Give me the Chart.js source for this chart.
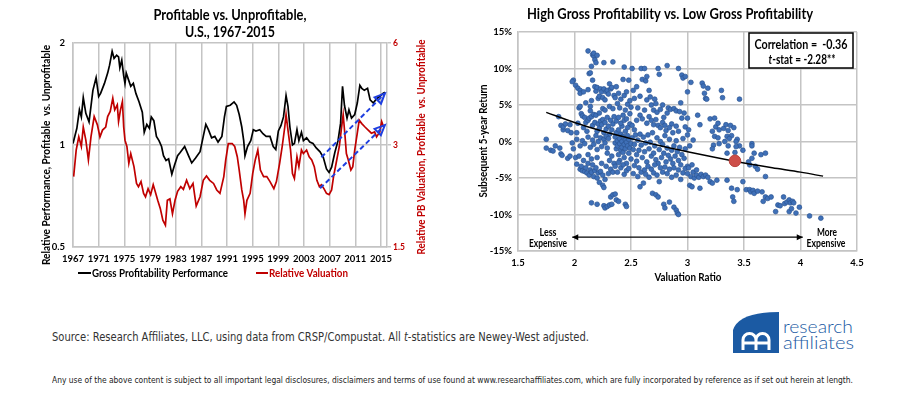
<!DOCTYPE html>
<html><head><meta charset="utf-8">
<script src="https://cdn.jsdelivr.net/npm/chart.js@4.4.1/dist/chart.umd.min.js"></script>
<style>
html,body{margin:0;padding:0;background:#fff;width:900px;height:399px;overflow:hidden;position:relative;}
#c1{position:absolute;left:0;top:0;}
#c2{position:absolute;left:450px;top:0;}
.foot{position:absolute;white-space:nowrap;transform-origin:0 50%;color:#333;}
#src{left:52px;top:329px;font:13px 'Liberation Sans Narrow','DejaVu Sans Condensed',sans-serif;}
#disc{left:52px;top:375px;font:9px 'Liberation Sans Narrow','DejaVu Sans Condensed',sans-serif;color:#222;}
#logo{position:absolute;left:728px;top:308px;}
</style></head><body>
<canvas id="c1" width="450" height="290"></canvas>
<canvas id="c2" width="450" height="290"></canvas>
<div class="foot" id="src">Source: Research Affiliates, LLC, using data from CRSP/Compustat. All <i>t</i>-statistics are Newey-West adjusted.</div>
<div class="foot" id="disc">Any use of the above content is subject to all important legal disclosures, disclaimers and terms of use found at www.researchaffiliates.com, which are fully incorporated by reference as if set out herein at length.</div>
<svg id="logo" width="135" height="50" xmlns="http://www.w3.org/2000/svg">
  <path d="M5 45 L5 22 Q11 4 51 4 L51 45 Z" fill="#1b5aa3"/>
  <path d="M15 42 L15 32 A6.5 6.5 0 0 1 28 32 L28 42 M28 32 A6.5 6.5 0 0 1 41 32 L41 42 M15 35 L41 35" stroke="#fff" stroke-width="3" fill="none"/>
  <text x="55" y="25" font-family="Lato, 'Open Sans', sans-serif" font-weight="300" font-size="17" fill="#1b5aa3" textLength="70" lengthAdjust="spacingAndGlyphs">research</text>
  <text x="55" y="41" font-family="Lato, 'Open Sans', sans-serif" font-weight="300" font-size="17" fill="#1b5aa3" textLength="71" lengthAdjust="spacingAndGlyphs">affiliates</text>
</svg>
<script>
// ---------------- DATA ----------------
const yearTicks = [1967,1971,1975,1979,1983,1987,1991,1995,1999,2003,2007,2011,2015];
const perfTicks = [0.5, 1, 2];
const valTicks = [1.5, 3, 6];

const perfYears = [1967.0,1967.6,1968.0,1968.3,1968.6,1969.0,1969.5,1969.8,1970.1,1970.6,1971.0,1971.3,1971.9,1972.4,1972.7,1973.1,1973.4,1973.8,1974.1,1974.3,1974.6,1974.9,1975.1,1975.3,1976.0,1976.4,1976.8,1977.3,1977.8,1978.1,1978.5,1978.9,1979.2,1979.6,1980.0,1980.4,1980.8,1981.1,1981.5,1981.9,1982.4,1982.8,1983.3,1983.7,1984.4,1985.0,1985.5,1986.1,1986.8,1987.3,1987.7,1988.1,1988.6,1989.1,1989.6,1990.2,1990.6,1990.9,1991.5,1992.1,1992.5,1992.9,1993.3,1993.6,1993.8,1994.2,1994.7,1995.1,1995.5,1996.1,1996.6,1997.1,1997.7,1998.2,1998.6,1999.0,1999.4,1999.8,2000.0,2000.2,2000.5,2000.8,2001.2,2001.5,2001.9,2002.2,2002.6,2002.9,2003.4,2003.9,2004.4,2004.9,2005.5,2006.0,2006.5,2006.9,2007.3,2007.8,2008.3,2008.7,2009.0,2009.3,2009.7,2010.0,2010.4,2010.9,2011.3,2011.7,2012.0,2012.4,2012.9,2013.3,2013.8,2014.3,2014.8,2015.3,2015.6];
const perfValues = [1.01,1.12,1.27,1.21,1.38,1.24,1.17,1.30,1.45,1.58,1.39,1.42,1.52,1.63,1.72,1.89,1.80,1.84,1.82,1.69,1.78,1.60,1.52,1.63,1.49,1.52,1.42,1.34,1.25,1.09,1.15,1.12,1.21,1.18,1.06,1.03,0.99,0.93,0.90,0.91,0.82,0.87,0.93,0.95,0.99,0.93,0.885,0.915,0.955,1.06,1.15,1.11,1.05,1.06,1.02,1.06,1.21,1.30,1.31,1.34,1.31,1.23,1.13,1.03,0.93,0.99,1.03,1.11,1.10,1.11,1.08,1.06,1.06,0.99,0.97,1.10,1.14,1.21,1.30,1.40,1.30,1.13,1.00,1.01,1.11,1.03,1.09,1.03,1.05,1.02,1.01,0.98,0.955,0.92,0.85,0.83,0.86,0.95,1.03,1.16,1.49,1.31,1.20,1.27,1.20,1.23,1.33,1.50,1.47,1.45,1.47,1.36,1.33,1.37,1.39,1.42,1.43];

const valYears = [1967.1,1967.5,1967.9,1968.3,1968.6,1969.0,1969.4,1969.8,1970.3,1970.8,1971.2,1971.6,1972.1,1972.4,1972.8,1973.2,1973.5,1973.9,1974.1,1974.4,1974.7,1974.9,1975.1,1975.4,1975.7,1976.0,1976.5,1976.9,1977.2,1977.6,1978.0,1978.3,1978.7,1979.1,1979.5,1979.8,1980.2,1980.6,1981.0,1981.4,1981.7,1982.1,1982.5,1982.9,1983.3,1983.8,1984.2,1984.7,1985.2,1985.7,1986.2,1986.8,1987.3,1987.8,1988.3,1988.9,1989.4,1989.9,1990.5,1990.8,1991.2,1991.8,1992.2,1992.6,1992.9,1993.3,1993.6,1993.8,1994.1,1994.6,1995.0,1995.4,1995.8,1996.2,1996.7,1997.2,1997.7,1998.3,1998.7,1999.2,1999.6,2000.0,2000.2,2000.5,2000.9,2001.2,2001.5,2001.9,2002.2,2002.6,2002.9,2003.4,2003.8,2004.2,2004.6,2005.0,2005.4,2005.7,2006.1,2006.5,2006.9,2007.3,2007.6,2008.0,2008.5,2008.8,2009.1,2009.4,2009.6,2009.9,2010.3,2010.6,2010.9,2011.3,2011.6,2012.0,2012.5,2013.0,2013.5,2014.0,2014.3,2014.8,2015.1,2015.4];
const valValues = [2.42,2.90,3.17,2.97,3.39,3.10,2.71,3.17,3.64,3.44,3.17,3.32,3.39,3.64,3.77,4.12,3.81,3.94,3.52,3.81,4.03,3.39,3.10,2.97,2.65,2.83,2.59,2.31,2.26,2.34,2.16,2.11,2.23,2.14,2.29,2.19,2.06,1.95,1.80,1.74,2.06,2.08,1.88,2.06,2.19,2.26,2.22,2.36,2.23,2.31,1.98,2.11,2.36,2.43,2.36,2.31,2.21,2.16,2.42,2.71,3.03,3.03,2.97,2.77,2.53,2.21,2.06,1.88,2.06,2.16,2.47,2.71,2.90,2.53,2.42,2.42,2.34,2.23,2.34,2.65,2.97,3.39,3.69,3.32,2.90,2.47,2.39,2.77,2.59,2.90,2.83,2.90,2.77,2.71,2.59,2.36,2.26,2.29,2.23,2.16,2.14,2.21,2.42,2.65,2.97,3.32,3.69,3.17,2.83,2.71,2.53,2.59,2.90,3.25,3.55,3.47,3.39,3.32,3.25,3.28,3.17,3.28,3.52,3.39];

// trend arrows on left chart (left-axis values)
const arrowUpper = [[2005.7, 0.92], [2015.6, 1.42]];
const arrowLower = [[2005.5, 0.745], [2015.6, 1.145]];

// right chart
const valuationTicks = [1.5, 2, 2.5, 3, 3.5, 4, 4.5];
const returnTicks = [-15, -10, -5, 0, 5, 10, 15];
const scatterPoints = [
[1.75,0.3],[1.75,-0.9],[1.79,-1.2],[1.81,-1.3],[1.83,-0.6],[1.87,-0.9],[1.88,-1.7],[1.89,-1.9],[1.94,-2.3],[1.86,3.4],[1.88,2.2],[1.9,1.6],[1.9,2.0],[1.92,2.4],[1.94,1.5],[1.96,2.3],[1.97,1.2],[1.98,-0.2],[1.99,-1.0],[1.99,8.4],[1.98,8.2],[1.96,-2.0],
[2.01,7.7],[2.03,7.3],[2.05,7.0],[2.05,6.6],[2.08,6.8],[2.1,5.3],[2.12,7.1],[2.12,12.4],[2.14,4.8],[2.15,5.6],[2.16,11.9],[2.17,11.7],[2.17,12.1],[2.18,11.2],[2.19,10.8],[2.2,11.8],[2.15,10.3],[2.13,9.3],[2.14,9.4],[2.16,8.4],[2.18,7.5],[2.19,6.9],[2.2,7.4],[2.21,5.9],[2.22,6.2],[2.23,7.2],[2.24,6.8],[2.25,6.0],[2.26,10.8],[2.26,7.2],[2.27,5.7],[2.28,6.8],[2.29,7.0],[2.3,6.5],[2.31,7.9],[2.32,7.2],[2.33,7.4],[2.34,10.9],[2.35,6.3],
[2.04,4.6],[2.05,4.8],[2.06,3.8],[2.07,3.5],[2.09,3.3],[2.1,2.6],[2.11,1.4],[2.08,1.9],[2.02,1.2],[2.03,2.5],[2.12,2.9],[2.13,3.2],[2.14,4.2],[2.15,3.4],[2.16,2.2],[2.17,3.7],[2.18,2.6],[2.19,3.6],[2.2,1.4],[2.21,2.4],[2.22,3.9],[2.22,1.8],[2.23,2.8],[2.24,2.3],[2.25,3.0],[2.25,4.5],[2.26,1.2],[2.27,4.3],[2.27,2.6],[2.28,1.7],[2.29,3.3],[2.3,2.1],[2.31,4.8],[2.31,1.0],[2.32,2.9],[2.33,1.6],[2.34,4.5],[2.34,2.4],[2.35,3.4],
[2.02,0.3],[2.05,-0.6],[2.07,0.1],[2.09,-0.3],[2.12,0.6],[2.14,-0.8],[2.16,0.2],[2.17,-0.4],[2.19,0.8],[2.2,-1.1],[2.21,0.0],[2.23,0.5],[2.24,-0.7],[2.26,0.3],[2.27,-0.2],[2.28,0.7],[2.29,-0.9],[2.3,0.4],
[2.01,-2.2],[2.02,-3.1],[2.04,-2.0],[2.05,-3.8],[2.06,-3.4],[2.07,-4.0],[2.08,-2.6],[2.09,-4.1],[2.1,-3.6],[2.11,-4.3],[2.12,-1.8],[2.12,-3.0],[2.13,-4.6],[2.14,-3.9],[2.15,-4.2],[2.15,-2.4],[2.16,-3.2],[2.17,-4.8],[2.18,-4.0],[2.19,-3.6],[2.2,-5.0],[2.2,-2.2],[2.21,-4.3],[2.22,-5.6],[2.23,-4.1],[2.24,-3.0],[2.25,-6.0],[2.25,-4.6],[2.26,-6.3],[2.27,-5.2],[2.28,-3.4],[2.29,-1.6],[2.3,-4.4],[2.31,-2.6],[2.32,-3.8],[2.33,-2.0],[2.34,-4.2],[2.35,-3.0],
[2.15,-8.4],[2.2,-8.6],[2.26,-8.8],[2.27,-9.1],[2.29,-8.9],[2.31,-8.7],[2.33,-8.6],[2.32,-7.6],[2.34,-7.3],[2.36,-7.2],[2.37,-8.0],[2.39,-8.2],[2.45,-8.6],[2.46,-8.9],
[2.36,0.6],[2.36,-0.2],[2.37,1.2],[2.37,-1.0],[2.38,0.1],[2.38,-0.6],[2.39,1.6],[2.39,-1.8],[2.4,0.4],[2.4,-0.3],[2.4,-2.6],[2.41,1.0],[2.41,-1.2],[2.42,0.0],[2.42,-0.8],[2.42,2.1],[2.43,-1.5],[2.43,0.7],[2.44,-0.4],[2.44,-2.2],[2.45,0.2],[2.45,1.4],[2.45,-1.0],[2.46,-0.1],[2.46,-3.0],[2.47,0.8],[2.47,-0.6],[2.48,-1.6],[2.48,0.3],[2.49,-0.9],[2.49,2.4],[2.5,-0.3],[2.5,-2.4],[2.51,0.5],[2.52,-1.1],[2.53,-0.4],[2.54,0.9],[2.55,-1.8],[2.36,-3.4],[2.38,-4.2],[2.39,-2.9],[2.41,-3.6],[2.43,-3.2],[2.44,-4.5],[2.46,-4.0],[2.48,-3.7],[2.52,-4.4],[2.53,-3.3],[2.55,-2.7],[2.37,2.8],[2.39,3.3],[2.41,2.5],[2.43,3.6],[2.44,2.9],[2.46,3.1],[2.47,1.9],[2.49,3.8],[2.51,2.2],[2.53,1.6],[2.55,2.9],
[2.36,6.0],[2.37,7.5],[2.38,5.2],[2.39,6.6],[2.4,4.6],[2.41,5.8],[2.43,8.5],[2.44,10.2],[2.44,6.3],[2.45,4.3],[2.46,6.8],[2.47,5.1],[2.48,8.4],[2.49,5.6],[2.5,4.7],[2.51,10.0],[2.52,7.0],[2.53,5.9],[2.55,7.5],[2.56,4.6],[2.58,6.2],[2.59,10.0],[2.6,8.5],
[2.62,10.0],[2.63,8.3],[2.64,8.9],[2.64,5.7],[2.66,7.0],[2.67,6.1],[2.68,5.0],[2.7,4.3],[2.71,5.8],[2.72,5.2],[2.73,4.0],[2.74,10.0],[2.75,9.2],[2.76,4.4],[2.78,5.0],[2.79,3.3],[2.82,10.4],[2.82,3.9],[2.83,4.6],[2.85,4.4],[2.86,2.4],[2.88,4.5],[2.9,4.2],[2.92,10.0],[2.93,4.1],[2.94,5.3],[2.95,9.1],[2.96,8.7],[2.97,3.9],[2.98,8.9],[3.0,6.8],[3.03,8.1],[2.58,3.6],[2.6,3.1],[2.62,4.3],[2.64,2.5],[2.66,3.4],[2.68,2.9],[2.7,2.3],[2.72,3.0],[2.74,2.2],[2.76,1.9],[2.78,2.6],[2.8,2.2],[2.81,1.5],[2.84,1.9],[2.87,1.2],[2.9,2.1],[2.92,1.4],[2.95,3.2],[2.98,2.0],
[2.56,0.2],[2.57,-1.2],[2.58,1.0],[2.59,-0.5],[2.6,-2.2],[2.61,0.6],[2.62,-1.4],[2.63,-0.2],[2.64,-2.8],[2.65,0.9],[2.66,-1.0],[2.67,-0.1],[2.68,-2.0],[2.69,1.2],[2.7,-1.6],[2.71,-0.6],[2.72,-2.5],[2.73,0.5],[2.74,-3.0],[2.75,-1.1],[2.76,0.0],[2.77,-2.2],[2.78,-0.4],[2.79,-1.6],[2.8,0.8],[2.81,-2.8],[2.82,-0.9],[2.83,-1.9],[2.84,0.3],[2.85,-2.4],[2.86,-1.2],[2.87,-3.0],[2.88,-0.6],[2.89,-2.0],[2.9,0.1],[2.91,-1.4],[2.92,-2.6],[2.93,-0.8],[2.94,-3.2],[2.95,-1.8],[2.96,0.4],[2.97,-2.3],[2.98,-1.0],[3.0,-3.4],
[2.56,-4.8],[2.57,-3.6],[2.58,-6.2],[2.59,-4.2],[2.61,-5.7],[2.62,-3.9],[2.63,-4.5],[2.65,-3.4],[2.66,-4.9],[2.68,-3.8],[2.7,-4.3],[2.71,-3.2],[2.73,-4.6],[2.75,-5.5],[2.76,-3.6],[2.78,-4.2],[2.8,-3.5],[2.82,-4.4],[2.84,-3.8],[2.86,-4.9],[2.88,-3.6],[2.9,-4.6],[2.92,-3.9],[2.94,-5.2],[2.96,-4.3],[2.98,-3.7],
[2.69,-7.1],[2.72,-7.3],[2.74,-7.6],[2.79,-8.6],[2.8,-9.1],[2.84,-8.3],[2.88,-9.0],[2.9,-9.4],[2.91,-9.8],[2.92,-10.0],
[3.0,-4.4],[3.01,-3.6],[3.02,-6.0],[3.03,-4.8],[3.04,-6.2],[3.05,-4.2],[3.06,-5.0],[3.08,-4.6],[3.1,-4.9],[3.11,-6.4],[3.12,-4.5],[3.14,-4.8],[3.16,-4.6],[3.18,-4.9],[3.2,-5.5],[3.22,-5.7],[3.04,-3.2],[3.08,-3.9],
[3.0,3.2],[3.01,1.6],[3.0,0.9],[3.02,-0.6],[3.05,0.2],[3.09,3.6],[3.11,2.3],[3.13,8.0],[3.14,7.6],[3.15,6.6],[3.16,5.9],[3.17,5.8],[3.18,7.3],[3.2,3.1],[3.22,1.4],[3.24,3.2],[3.25,2.0],[3.27,2.5],[3.28,1.6],[3.3,7.0],[3.31,6.0],[3.32,1.8],[3.34,2.3],[3.36,1.5],[3.38,2.2],[3.39,0.8],[3.41,1.9],[3.44,0.3],[3.46,5.8],[3.24,0.7],[3.27,0.5],[3.35,0.7],[3.37,0.4],[3.23,-0.5],[3.28,-0.3],[3.33,0.0],[3.43,0.0],[3.46,-0.6],[3.36,-0.6],[3.22,-1.0],
[3.35,-1.6],[3.42,-1.5],[3.43,-0.7],[3.49,-1.2],[3.57,-0.3],[3.57,-0.6],[3.59,-1.6],[3.57,-2.3],[3.55,-3.2],[3.54,-2.8],[3.6,-3.4],[3.62,-3.8],[3.65,-1.8],[3.69,-1.6],[3.69,-4.8],
[3.26,-5.3],[3.35,-5.3],[3.39,-6.4],[3.4,-7.6],[3.41,-8.2],[3.44,-6.6],[3.49,-5.5],[3.52,-6.6],[3.55,-6.6],[3.56,-6.9],[3.58,-6.7],[3.59,-7.1],[3.66,-6.9],[3.67,-8.2],[3.69,-7.6],[3.71,-7.8],[3.74,-7.6],[3.78,-9.6],[3.8,-8.7],[3.82,-8.8],[3.85,-7.6],[3.86,-8.5],[3.88,-8.3],[3.9,-8.0],[3.91,-8.4],[3.93,-8.2],[3.9,-9.6],[3.92,-9.2],[3.96,-9.8],[3.99,-9.0],[4.08,-10.2],[4.18,-10.5],[3.94,-8.4],[3.62,-6.8]
];
const currentPoint = [[3.42, -2.65]];
const trendPoints = [[1.75,4.0],[2.0,2.6],[2.25,1.4],[2.5,0.4],[2.75,-0.55],[3.0,-1.4],[3.25,-2.2],[3.5,-2.95],[3.75,-3.6],[4.0,-4.2],[4.2,-4.75]];
const expensiveArrow = [[1.98,-13.1],[4.02,-13.1]];
const statLines = ['Correlation =  -0.36', '-stat = -2.28**'];

// ---------------- HELPERS ----------------
const FAM = "Lato, 'Open Sans', sans-serif";
function drawText(ctx, parts, cx, cy, size, target, rot) {
  ctx.save();
  ctx.translate(cx, cy);
  if (rot) ctx.rotate(rot);
  let total = 0;
  parts.forEach(p => { ctx.font = (p.s || '') + ' bold ' + size + 'px ' + FAM; p.w = ctx.measureText(p.t).width; total += p.w; });
  const sx = target ? target / total : 1;
  ctx.scale(sx, 1);
  ctx.textBaseline = 'middle'; ctx.textAlign = 'left';
  let x = -total / 2;
  parts.forEach(p => { ctx.font = (p.s || '') + ' bold ' + size + 'px ' + FAM; ctx.fillStyle = p.c || '#000'; ctx.fillText(p.t, x, 0); x += p.w; });
  ctx.restore();
}
function drawTextLeft(ctx, t, x, cy, size, target, color) {
  ctx.save();
  ctx.font = 'bold ' + size + 'px ' + FAM;
  const w = ctx.measureText(t).width;
  ctx.translate(x, cy); ctx.scale(target / w, 1);
  ctx.textBaseline = 'middle'; ctx.textAlign = 'left'; ctx.fillStyle = color;
  ctx.fillText(t, 0, 0);
  ctx.restore();
}
function arrowHead(ctx, ax, ay, bx, by, len, half, color, fill) {
  const ang = Math.atan2(by - ay, bx - ax);
  ctx.save();
  ctx.translate(bx, by); ctx.rotate(ang);
  ctx.beginPath(); ctx.moveTo(0, 0); ctx.lineTo(-len, -half); ctx.lineTo(-len, half); ctx.closePath();
  ctx.setLineDash([]);
  if (fill) { ctx.fillStyle = color; ctx.fill(); }
  else { ctx.strokeStyle = color; ctx.lineWidth = 2; ctx.lineJoin = 'miter'; ctx.stroke(); }
  ctx.restore();
}
const GRID = '#c4c4c4';
const tickFont = {family: FAM, weight: 'bold', size: 9.5};

// ---------------- LEFT CHART ----------------
const leftDecor = {
  id: 'leftDecor',
  afterDatasetsDraw(chart) {
    const ctx = chart.ctx;
    [0, 1].forEach(i => {
      const pts = chart.getDatasetMeta(i).data;
      const a = pts[pts.length - 2], b = pts[pts.length - 1];
      arrowHead(ctx, a.x, a.y, b.x, b.y, 10, 4.5, '#1f3fe0', false);
    });
  },
  afterDraw(chart) {
    const ctx = chart.ctx;
    drawText(ctx, [{t: 'Profitable vs. Unprofitable,'}], 230, 15, 14.5, 153);
    drawText(ctx, [{t: 'U.S., 1967-2015'}], 230, 32, 14.5, 90);
    drawText(ctx, [{t: 'Relative Performance, Profitable  vs. Unprofitable'}], 46, 155, 11, 220, -Math.PI / 2);
    drawText(ctx, [{t: 'Relative PB Valuation, Profitable  vs. Unprofitable', c: '#c00000'}], 421, 147, 11, 215, -Math.PI / 2);
    // legend
    ctx.save();
    ctx.lineWidth = 2;
    ctx.strokeStyle = '#000'; ctx.beginPath(); ctx.moveTo(78, 273); ctx.lineTo(91, 273); ctx.stroke();
    ctx.strokeStyle = '#c00000'; ctx.beginPath(); ctx.moveTo(256, 273); ctx.lineTo(268, 273); ctx.stroke();
    ctx.restore();
    drawTextLeft(ctx, chart.data.datasets[2].label, 92, 273, 11.5, 136, '#000');
    drawTextLeft(ctx, chart.data.datasets[3].label, 269, 273, 11.5, 79, '#c00000');
  }
};

new Chart(document.getElementById('c1'), {
  type: 'line',
  data: {
    datasets: [
      {label: 'arrowUpper', data: arrowUpper.map(([x, y]) => ({x, y})), borderColor: '#1f3fe0', borderWidth: 2, borderDash: [5, 3], pointRadius: 0, yAxisID: 'y', order: 0},
      {label: 'arrowLower', data: arrowLower.map(([x, y]) => ({x, y})), borderColor: '#1f3fe0', borderWidth: 2, borderDash: [5, 3], pointRadius: 0, yAxisID: 'y', order: 0},
      {label: 'Gross Profitability Performance', data: perfYears.map((x, i) => ({x, y: perfValues[i]})), borderColor: '#000', borderWidth: 1.7, pointRadius: 0, yAxisID: 'y', order: 1},
      {label: 'Relative Valuation', data: valYears.map((x, i) => ({x, y: valValues[i]})), borderColor: '#c00000', borderWidth: 1.7, pointRadius: 0, yAxisID: 'y2', order: 2}
    ]
  },
  options: {
    responsive: false, animation: false, devicePixelRatio: 1,
    layout: {padding: {top: 43, left: 0, right: 0, bottom: 0}},
    plugins: {legend: {display: false}, tooltip: {enabled: false}},
    scales: {
      x: {
        type: 'linear', min: 1967, max: 2015.93,
        afterBuildTicks: s => { s.ticks = yearTicks.map(v => ({value: v})); },
        afterFit: s => { s.height = 43; },
        grid: {color: GRID, lineWidth: 1.5, drawTicks: false},
        border: {color: GRID, width: 1.5},
        ticks: {padding: 6, color: '#000', font: tickFont, maxRotation: 0, autoSkip: false, callback: v => String(v)}
      },
      y: {
        type: 'logarithmic', position: 'left', min: 0.5, max: 2,
        afterBuildTicks: s => { s.ticks = perfTicks.map(v => ({value: v})); },
        afterFit: s => { s.width = 73; },
        grid: {color: GRID, lineWidth: 1.5, drawTicks: false},
        border: {color: GRID, width: 1.5},
        ticks: {padding: 8, color: '#000', font: tickFont, callback: v => String(v)}
      },
      y2: {
        type: 'logarithmic', position: 'right', min: 1.5, max: 6,
        afterBuildTicks: s => { s.ticks = valTicks.map(v => ({value: v})); },
        afterFit: s => { s.width = 63; },
        grid: {drawOnChartArea: false, color: GRID, lineWidth: 1.5, tickLength: 4},
        border: {color: GRID, width: 1.5},
        ticks: {padding: 2, color: '#c00000', font: {family: FAM, weight: 'bold', size: 8.5}, callback: v => String(v)}
      }
    }
  },
  plugins: [leftDecor]
});

// ---------------- RIGHT CHART ----------------
const rightDecor = {
  id: 'rightDecor',
  afterDatasetsDraw(chart) {
    const ctx = chart.ctx;
    const pts = chart.getDatasetMeta(3).data;
    const a = pts[0], b = pts[1];
    arrowHead(ctx, a.x, a.y, b.x, b.y, 6, 3, '#000', true);
    arrowHead(ctx, b.x, b.y, a.x, a.y, 6, 3, '#000', true);
  },
  afterDraw(chart) {
    const ctx = chart.ctx;
    drawText(ctx, [{t: 'High Gross Profitability vs. Low Gross Profitability'}], 220, 14, 14.5, 286);
    drawText(ctx, [{t: 'Subsequent 5-year Return'}], 33, 141, 11, 113, -Math.PI / 2);
    drawText(ctx, [{t: 'Valuation Ratio'}], 238, 277, 11.5, 67);
    // stats box
    ctx.save();
    ctx.fillStyle = '#fff'; ctx.strokeStyle = '#000'; ctx.lineWidth = 1.5;
    ctx.fillRect(299, 33, 104, 35); ctx.strokeRect(299, 33, 104, 35);
    ctx.restore();
    drawText(ctx, [{t: statLines[0]}], 351, 44.5, 12.5, 93);
    drawText(ctx, [{t: 't', s: 'italic'}, {t: statLines[1]}], 352, 59.5, 12.5, 67);
    drawText(ctx, [{t: 'Less'}], 98, 232, 11, 17);
    drawText(ctx, [{t: 'Expensive'}], 98, 243, 11, 38);
    drawText(ctx, [{t: 'More'}], 377, 232, 11, 20);
    drawText(ctx, [{t: 'Expensive'}], 376, 243, 11, 39);
  }
};

new Chart(document.getElementById('c2'), {
  type: 'scatter',
  data: {
    datasets: [
      {label: 'Current', data: currentPoint.map(([x, y]) => ({x, y})), pointRadius: 5.8, backgroundColor: '#cd4e49', borderColor: '#b8423d', borderWidth: 1, order: 0},
      {label: 'Trend', data: trendPoints.map(([x, y]) => ({x, y})), showLine: true, cubicInterpolationMode: 'monotone', borderColor: '#000', borderWidth: 1.4, pointRadius: 0, order: 1},
      {label: 'Observations', data: scatterPoints.map(([x, y]) => ({x, y})), pointRadius: 2.4, backgroundColor: '#3f70b8', borderColor: '#2b5592', borderWidth: 0.7, order: 3},
      {label: 'Arrow', data: expensiveArrow.map(([x, y]) => ({x, y})), showLine: true, borderColor: '#000', borderWidth: 1.3, pointRadius: 0, order: 2}
    ]
  },
  options: {
    responsive: false, animation: false, devicePixelRatio: 1,
    layout: {padding: {top: 32, left: 0, right: 43, bottom: 0}},
    plugins: {legend: {display: false}, tooltip: {enabled: false}},
    scales: {
      x: {
        type: 'linear', min: 1.5, max: 4.5,
        afterBuildTicks: s => { s.ticks = valuationTicks.map(v => ({value: v})); },
        afterFit: s => { s.height = 39; },
        grid: {color: GRID, lineWidth: 1.5, drawTicks: false},
        border: {color: GRID, width: 1.5},
        ticks: {padding: 6, color: '#000', font: tickFont, maxRotation: 0, autoSkip: false, callback: v => String(v)}
      },
      y: {
        type: 'linear', min: -15, max: 15,
        afterBuildTicks: s => { s.ticks = returnTicks.map(v => ({value: v})); },
        afterFit: s => { s.width = 68; },
        grid: {color: GRID, lineWidth: 1.5, drawTicks: false},
        border: {color: GRID, width: 1.5},
        ticks: {padding: 6, color: '#000', font: tickFont, callback: v => v + '%'}
      }
    }
  },
  plugins: [rightDecor]
});

// fit footer text widths
function fitWidth(id, target) {
  const el = document.getElementById(id);
  const w = el.getBoundingClientRect().width;
  el.style.transform = 'scaleX(' + (target / w) + ')';
}
fitWidth('src', 537);
fitWidth('disc', 801);
</script>
</body></html>
